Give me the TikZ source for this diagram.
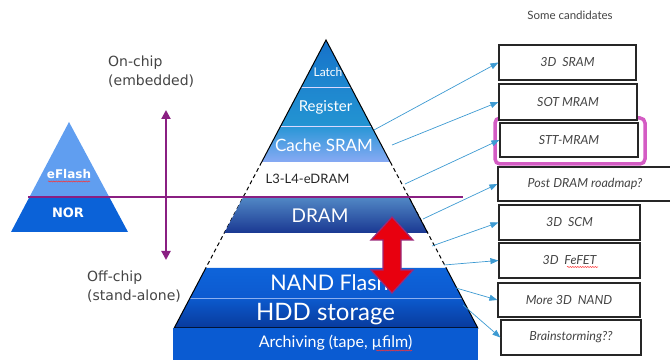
\documentclass[tikz,border=0pt]{standalone}
\usepackage{fontspec}
\setmainfont{Lato}
\newfontfamily\labfont{DejaVu Sans}
\usetikzlibrary{arrows.meta,decorations.pathmorphing}

\definecolor{edgepurple}{HTML}{8A1F82}
\definecolor{linkblue}{HTML}{3D9AD2}
\definecolor{hilite}{HTML}{D45CC4}
\definecolor{arrowred}{HTML}{E8000F}
\definecolor{arrowrim}{HTML}{9A2A7A}
\definecolor{txtgray}{HTML}{444444}

\tikzset{
  tier/.style={text=white, inner sep=0pt},
  candbox/.style={draw=black!85, line width=1.2pt, fill=white, inner sep=0pt,
    font=\itshape\fontsize{12.5}{14}\selectfont, text=txtgray},
  link/.style={draw=linkblue, line width=0.7pt, -{Triangle[length=8pt,width=6pt]}},
  spell/.style={draw=red!80, line width=0.5pt,
    decorate, decoration={snake, amplitude=0.6pt, segment length=2.5pt}},
  sidelabel/.style={font=\labfont\fontsize{14}{19}\selectfont, text=txtgray,
    align=left, inner sep=0pt, anchor=west},
}

\begin{document}
\begin{tikzpicture}[x=1pt, y=-1pt]
\useasboundingbox (0,0) rectangle (670,363);

% ---------- small embedded pyramid ----------
\begin{scope}
  \clip (69,122) -- (128,232) -- (11,232) -- cycle;
  \fill[color={rgb,255:red,96;green,158;blue,240}] (0,115) rectangle (140,197);
  \fill[color={rgb,255:red,11;green,98;blue,216}] (0,197) rectangle (140,233);
\end{scope}
\node[tier, font=\labfont\bfseries\fontsize{12}{14}\selectfont] (eflash) at (69,174) {eFlash};
\node[tier, font=\labfont\bfseries\fontsize{13}{15}\selectfont] (nor) at (68,213) {NOR};
\draw[spell] (48,181.5) -- (90,181.5);

% ---------- main pyramid: on-chip levels ----------
\begin{scope}
  \clip (326,40) -- (390.3,162) -- (261.7,162) -- cycle;
  \shade[top color={rgb,255:red,22;green,112;blue,200}, bottom color={rgb,255:red,30;green,136;blue,208}]
    (250,38) rectangle (400,87);
  \shade[top color={rgb,255:red,30;green,134;blue,207}, bottom color={rgb,255:red,35;green,148;blue,210}]
    (250,87) rectangle (400,126);
  \shade[top color={rgb,255:red,40;green,150;blue,214}, bottom color={rgb,255:red,136;green,170;blue,244}]
    (250,126) rectangle (400,162);
  \draw[white!85!blue, line width=0.9pt] (250,87) -- (400,87) (250,126) -- (400,126);
\end{scope}
\draw[black, line width=1pt] (261.7,162) -- (326,40) -- (390.3,162);

% dashed continuation of the pyramid sides
\draw[black, line width=1pt, dash pattern=on 4pt off 3pt]
  (261.7,162) -- (205.8,268) (390.3,162) -- (446.2,268);

% DRAM band
\shade[top color={rgb,255:red,80;green,134;blue,196}, bottom color={rgb,255:red,26;green,56;blue,146}]
  (242.7,198) -- (409.3,198) -- (427.7,233) -- (224.3,233) -- cycle;
\draw[black, line width=1pt] (409.3,198) -- (427.7,233);

% NAND Flash and HDD storage bands
\shade[top color={rgb,255:red,14;green,100;blue,218}, bottom color={rgb,255:red,12;green,90;blue,208}]
  (205.8,268) -- (446.2,268) -- (462,298) -- (190,298) -- cycle;
\shade[top color={rgb,255:red,12;green,90;blue,206}, bottom color={rgb,255:red,8;green,58;blue,156}]
  (190,298) -- (462,298) -- (477.8,328) -- (174.2,328) -- cycle;
\draw[color={rgb,255:red,140;green,176;blue,240}, line width=0.8pt] (190,298) -- (462,298);
\draw[black, line width=1pt] (205.8,268) -- (174.2,328) -- (477.8,328) -- (446.2,268);

% archiving base
\fill[color={rgb,255:red,10;green,91;blue,210}] (173,328.5) rectangle (478,360);

% level labels
\node[tier, font=\fontsize{12}{14}\selectfont] (latch) at (328,72) {Latch};
\node[tier, font=\fontsize{15}{17}\selectfont] (register) at (325.5,107) {Register};
\node[tier, font=\fontsize{17}{19}\selectfont] (cache) at (324,145) {Cache SRAM};
\node[inner sep=0pt, text=black!85, font=\fontsize{13}{15}\selectfont] (edram) at (307.5,179) {L3-L4-eDRAM};
\node[tier, font=\fontsize{19}{21}\selectfont] (dram) at (320,216) {DRAM};
\node[tier, font=\fontsize{21.5}{24}\selectfont] (nand) at (329.5,283) {NAND Flash};
\node[tier, font=\fontsize{24}{26}\selectfont] (hdd) at (325.5,314) {HDD storage};
\node[tier, font=\fontsize{16}{18}\selectfont] (archive) at (335.5,343) {Archiving (tape, µfilm)};
\draw[spell] (376,350.5) -- (412,350.5);

% on-chip / off-chip divider
\draw[edgepurple, line width=2.4pt] (28,197) -- (463,197);
\coordinate (ontip) at (166,110);
\coordinate (offtip) at (166,260);
\draw[edgepurple, line width=2pt, {Triangle[length=9pt,width=9pt]}-{Triangle[length=9pt,width=9pt]}]
  (ontip) -- (offtip);
\node[sidelabel] (onchip) at (108,72) {On-chip\\(embedded)};
\node[sidelabel] (offchip) at (87,287) {Off-chip\\(stand-alone)};

% memory gap arrow
\filldraw[fill=arrowred, draw=arrowrim, line width=1.2pt, line join=miter]
  (392,217) -- (413,240) -- (401,240) -- (401,270) -- (413,270) -- (392,293)
  -- (371,270) -- (383,270) -- (383,240) -- (371,240) -- cycle;

% candidate technologies
\node[font=\fontsize{11.5}{13}\selectfont, text=txtgray] (cands) at (570,15) {Some candidates};
\draw[hilite, line width=3.5pt, rounded corners=5pt] (495,118) rectangle (645,164);
\node[candbox, minimum width=137pt, minimum height=35pt] (b1) at (567.5,62.5) {3D\ \ SRAM};
\node[candbox, minimum width=138pt, minimum height=36pt] (b2) at (568,102) {SOT MRAM};
\node[candbox, minimum width=138pt, minimum height=34pt] (b3) at (569,140) {STT-MRAM};
\node[candbox, minimum width=174pt, minimum height=34pt] (b4) at (585,184) {Post DRAM roadmap?};
\node[candbox, minimum width=141pt, minimum height=35pt] (b5) at (569.5,222.5) {3D\ \ SCM};
\node[candbox, minimum width=141pt, minimum height=35pt] (b6) at (569.5,260.5) {3D\ \ FeFET};
\node[candbox, minimum width=142pt, minimum height=34pt] (b7) at (569,300) {More 3D\ \ NAND};
\node[candbox, minimum width=140pt, minimum height=35pt] (b8) at (571,337.5) {Brainstorming??};
\draw[spell] (567,267) -- (598,267);

% links from the hierarchy to the candidates
\coordinate (s1) at (374,130);
\coordinate (s2) at (392,145);
\coordinate (s3) at (405,184);
\coordinate (s4) at (423,219);
\coordinate (s5) at (432,246);
\coordinate (s6) at (444,265);
\coordinate (s7) at (456,288);
\coordinate (s8) at (463,305);
\draw[link] (s1) -- (b1.west);
\draw[link] (s2) -- (b2.west);
\draw[link] (s3) -- (b3.west);
\draw[link] (s4) -- (b4.west);
\draw[link] (s5) -- (b5.west);
\draw[link] (s6) -- (b6.west);
\draw[link] (s7) -- (b7.west);
\draw[link] (s8) -- (b8.west);
\end{tikzpicture}
\end{document}
